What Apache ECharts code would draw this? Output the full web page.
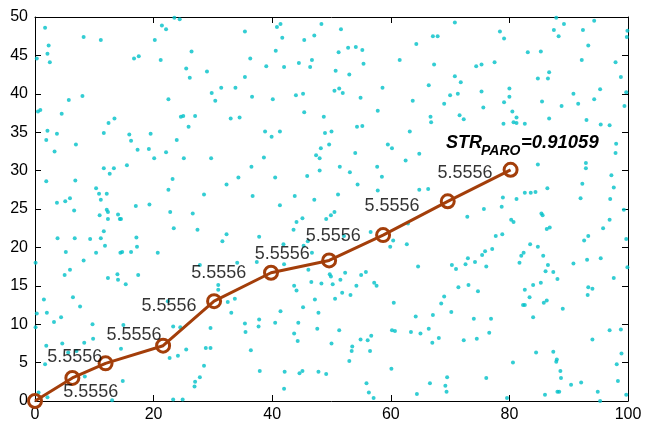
<!DOCTYPE html>
<html>
<head>
<meta charset="utf-8">
<script src="https://cdn.jsdelivr.net/npm/echarts@6/dist/echarts.min.js"></script>
<style>
html, body { margin: 0; padding: 0; background: #fff; }
#chart { width: 647px; height: 427px; }
</style>
</head>
<body>
<div id="chart"></div>
<script>
// background point cloud [x, y]
var cloud = [
  [1.7,48.6],[8.2,47.4],[11.1,47.0],[2.3,46.3],[2.1,45.2],[0.3,44.6],[2.5,44.1],[21.4,48.9],[22.1,48.4],[23.5,49.9],[24.4,49.7],[20.2,47.0],[16.7,44.6],[17.5,44.9],[21.2,44.4],[5.7,39.2],[8.0,39.7],[0.5,37.7],[0.9,37.9],[4.5,37.4],[22.5,39.3],[24.6,37.0],[25.0,37.1],[12.4,36.2],[13.4,36.8],[2.1,35.2],[3.7,34.8],[1.9,34.0],[11.6,34.9],[15.9,34.7],[19.5,34.8],[16.2,33.9],[6.9,33.4],[23.9,34.0],
  [41.4,49.1],[40.8,48.7],[48.3,49.1],[35.4,48.1],[41.7,47.3],[47.1,47.6],[45.4,47.0],[26.4,45.5],[40.6,45.6],[36.3,44.6],[25.5,43.3],[29.0,42.9],[26.1,42.1],[39.0,43.6],[42.0,43.5],[44.5,44.0],[46.7,44.4],[46.4,43.5],[35.4,42.2],[31.4,40.8],[33.8,40.8],[29.8,40.1],[30.4,39.1],[36.6,39.6],[40.1,39.3],[44.0,39.8],[45.2,40.0],[27.0,37.1],[33.0,36.8],[34.5,36.9],[45.4,37.6],[48.7,37.0],[25.9,35.7],[38.8,35.1],[41.3,35.1],[39.9,34.4],[48.9,34.9],[50.0,35.1],[49.6,33.4],
  [51.6,48.4],[70.8,49.3],[67.1,47.5],[67.9,47.5],[64.3,46.5],[52.8,46.0],[54.1,46.1],[55.2,45.7],[51.2,45.4],[55.4,43.9],[61.5,44.4],[67.3,43.8],[50.7,43.0],[53.0,42.5],[74.4,43.6],[70.8,42.3],[71.8,41.5],[66.4,41.1],[58.6,40.8],[51.3,40.7],[50.5,40.4],[51.9,40.1],[54.9,39.5],[71.3,40.0],[70.0,39.8],[63.7,39.1],[69.0,38.7],[57.8,37.8],[71.6,37.2],[72.3,36.7],[66.7,37.0],[66.8,36.3],[54.3,35.7],[55.2,35.8],[63.2,35.1],[59.5,33.4],
  [78.4,48.1],[79.1,47.2],[87.9,49.9],[89.2,49.1],[94.3,49.5],[87.5,48.3],[88.3,47.5],[92.4,48.3],[99.8,47.4],[99.9,48.2],[93.3,46.3],[83.1,45.4],[85.3,45.5],[75.3,43.8],[77.5,44.1],[92.2,44.4],[97.9,44.1],[86.7,42.8],[84.8,42.0],[86.5,42.0],[98.8,42.2],[75.3,40.3],[80.0,40.7],[80.0,39.6],[79.1,38.9],[85.5,39.0],[90.8,40.0],[95.3,40.6],[94.3,39.3],[91.6,38.7],[88.8,38.4],[99.7,40.2],[75.6,38.2],[99.4,38.4],[80.5,37.7],[81.2,36.9],[80.7,36.3],[81.2,36.2],[82.6,36.1],[79.0,36.1],[86.7,36.8],[93.0,36.6],[95.4,36.0],[96.9,35.9],[98.0,33.5],
  [3.3,32.5],[17.3,32.7],[19.2,32.8],[22.1,32.4],[20.1,31.6],[25.1,31.6],[11.6,30.3],[13.3,30.3],[15.5,30.7],[12.6,29.6],[1.9,28.6],[6.8,28.7],[23.2,28.9],[10.3,27.7],[22.5,27.5],[10.8,27.0],[12.1,27.0],[11.1,26.2],[5.9,26.4],[5.1,26.0],[3.7,25.8],[17.0,25.4],[19.3,25.6],[6.6,24.8],[12.1,24.9],[12.3,24.6],[10.9,24.2],[14.0,24.3],[14.3,23.7],[14.5,23.7],[12.3,23.7],[22.8,24.6],[23.4,22.5],[11.6,22.1],[3.8,21.2],[6.7,21.2],[9.3,21.1],[11.1,21.2],[17.1,21.3],[17.2,20.1],[11.8,20.2],[5.2,19.4],[10.3,19.3],[14.4,19.3],[14.7,19.4],[16.2,19.4],[20.7,19.3],[0.1,18.0],[8.2,18.3],[5.9,17.1],[5.0,16.4],[13.9,16.5],[17.4,16.4],
  [29.7,31.6],[38.6,31.7],[48.2,32.9],[47.4,32.0],[48.0,31.6],[48.0,30.0],[36.5,30.5],[34.3,29.1],[40.5,29.1],[45.9,29.3],[32.3,28.2],[28.5,26.9],[36.7,26.7],[43.8,26.7],[47.1,26.2],[41.3,25.5],[26.6,24.4],[45.1,23.8],[44.1,23.3],[49.1,23.7],[49.9,24.2],[27.4,22.3],[32.3,21.7],[31.6,20.8],[37.8,21.4],[43.6,22.3],[46.0,20.8],[45.3,20.2],[41.9,20.4],[46.7,19.3],[27.8,17.7],[34.1,18.0],[37.4,18.1],[42.0,17.8],[46.1,17.1],[49.7,16.5],
  [54.0,32.3],[60.2,32.9],[64.8,32.2],[62.5,31.3],[51.4,30.5],[53.1,29.8],[57.7,30.5],[58.5,29.2],[54.4,28.2],[57.8,27.4],[64.8,27.5],[66.3,27.6],[51.1,26.9],[50.5,24.6],[62.9,23.1],[72.9,24.0],[56.6,22.0],[52.1,21.5],[60.4,20.9],[62.7,20.4],[59.9,20.1],[73.0,18.6],[74.2,18.1],[72.6,17.8],[70.3,17.7],[71.0,17.2],[64.6,17.5],[52.3,16.7],[55.0,16.4],[55.8,16.8],
  [97.9,32.3],[84.8,30.8],[92.9,31.0],[92.9,30.3],[97.2,29.4],[92.3,28.3],[97.6,27.8],[86.4,27.7],[82.6,27.1],[83.6,27.1],[84.4,27.2],[78.9,26.5],[81.2,26.3],[92.0,26.4],[97.0,26.3],[75.7,25.0],[78.7,25.3],[85.4,24.4],[85.6,24.2],[80.3,23.6],[80.7,23.3],[99.3,24.9],[96.9,23.6],[86.3,22.4],[86.8,22.6],[95.8,22.5],[77.7,21.5],[78.8,21.7],[93.3,21.5],[92.6,20.9],[99.7,21.1],[83.5,20.4],[84.8,20.1],[77.1,19.8],[75.9,19.5],[75.4,19.0],[82.4,19.3],[82.0,18.9],[85.7,18.9],[95.4,18.6],[93.1,18.4],[76.1,17.5],[81.7,18.0],[86.5,17.7],[90.8,17.9],[86.1,16.9],[87.4,16.8],[99.9,17.4],
  [12.3,16.0],[14.0,15.8],[15.3,15.2],[1.5,13.2],[6.4,13.5],[7.6,12.3],[0.3,11.4],[2.0,11.5],[4.4,10.9],[3.2,10.3],[0.1,9.6],[9.7,10.0],[14.9,9.9],[9.8,8.1],[8.3,7.6],[4.6,7.5],[1.9,7.2],[5.6,6.3],[7.0,6.5],[14.5,6.8],[22.4,13.0],[23.3,9.7],[24.5,9.6],[24.1,5.9],[22.7,5.6],[1.7,4.8],[8.4,3.2],[14.8,2.6],[0.6,1.1],[2.1,0.5],[13.0,0.1],[23.3,0.2],[24.9,0.2],
  [30.9,15.1],[30.9,14.5],[32.5,12.9],[33.7,13.3],[33.1,11.5],[29.6,9.5],[25.5,6.7],[28.8,6.9],[29.6,6.9],[28.5,4.6],[27.8,3.1],[27.0,2.5],[26.9,1.9],[35.4,10.1],[35.5,9.0],[36.4,6.6],[37.7,9.7],[37.8,10.6],[37.9,3.9],[40.5,10.2],[41.4,11.7],[42.1,3.8],[42.0,1.6],[43.7,15.0],[44.1,14.4],[44.4,10.2],[44.3,7.8],[43.7,8.8],[44.6,3.6],[45.1,3.9],[45.2,12.2],[46.6,15.5],[47.2,13.2],[47.6,9.4],[47.8,11.5],[47.8,3.8],[48.3,15.3],[49.9,16.2],[50.2,15.2],[50.0,7.5],[49.1,3.5],
  [51.5,15.8],[50.6,13.3],[54.2,15.0],[57.2,15.4],[57.6,15.0],[51.8,14.1],[53.2,13.8],[60.5,12.8],[71.4,14.8],[73.1,15.1],[74.7,14.3],[69.0,13.6],[68.5,12.7],[70.2,11.6],[67.1,11.2],[64.2,11.0],[74.0,10.7],[51.3,9.2],[60.2,9.2],[60.7,9.1],[63.4,9.0],[65.0,8.8],[66.4,9.4],[68.1,8.2],[67.0,7.6],[54.9,8.0],[56.7,8.5],[56.1,7.9],[53.5,7.1],[53.4,6.5],[56.5,6.5],[53.0,5.2],[60.1,4.2],[72.3,7.9],[74.5,8.1],[55.9,2.3],[56.3,1.1],[57.1,0.4],[66.6,2.3],[69.2,2.0],[69.5,3.1],[69.4,1.2],[64.4,0.9],
  [82.6,14.5],[84.0,15.1],[85.3,15.4],[88.1,15.9],[97.6,16.0],[93.3,14.8],[94.0,14.6],[93.2,13.8],[83.4,13.5],[82.3,12.5],[82.6,12.5],[85.8,12.8],[86.3,13.1],[89.0,12.0],[76.9,10.7],[84.0,10.9],[76.6,8.9],[96.9,9.2],[98.8,9.3],[94.0,8.0],[84.5,6.3],[87.4,6.4],[88.0,5.4],[87.9,5.1],[98.9,6.2],[98.1,4.8],[80.6,5.0],[88.6,3.9],[88.7,3.0],[90.4,2.1],[92.1,2.4],[98.3,2.6],[76.1,3.0],[86.0,0.8],[88.1,1.2],[88.4,1.2],[94.9,1.2],[99.7,0.8],[79.6,0.4],[95.3,0.0]
];

// path through the cloud
var pathX = [0, 6.3, 11.9, 21.6, 30.2, 39.8, 49.6, 58.7, 69.6, 80.2];
var pathY = [0, 3.0, 4.9, 7.2, 13.0, 16.7, 18.3, 21.6, 26.0, 30.1];

// segment labels (anchor in data units) and their text
var labelX = [9.4, 6.7, 16.7, 22.6, 31.0, 41.7, 50.3, 60.2, 72.5];
var labelY = [1.2, 5.7, 8.6, 12.4, 16.7, 19.1, 21.5, 25.4, 29.7];
var labelText = ["5.5556", "5.5556", "5.5556", "5.5556", "5.5556", "5.5556", "5.5556", "5.5556", "5.5556"];

var xTicks = [0, 20, 40, 60, 80, 100];
var yTicks = [0, 5, 10, 15, 20, 25, 30, 35, 40, 45, 50];

var FONT = "Liberation Sans, Arial, Helvetica, sans-serif";

var chart = echarts.init(document.getElementById("chart"), null, { renderer: "canvas" });

var pathData = pathX.map(function (x, i) { return [x, pathY[i]]; });
var labelData = labelX.map(function (x, i) { return { value: [x, labelY[i]], name: labelText[i] }; });

function boxAxis(pos, min, max, step, showLabel) {
  return {
    type: "value",
    position: pos,
    min: min,
    max: max,
    interval: step,
    splitLine: { show: false },
    axisLine: { show: true, onZero: false, lineStyle: { color: "#000", width: 1 } },
    axisTick: { show: true, inside: true, length: 6, lineStyle: { color: "#000", width: 1 } },
    axisLabel: {
      show: showLabel,
      color: "#000",
      fontFamily: FONT,
      fontSize: 16,
      margin: pos === "left" ? 7 : 6
    }
  };
}

var option = {
  animation: false,
  backgroundColor: "#fff",
  grid: { left: 35, right: 19, top: 17, bottom: 26, containLabel: false },
  xAxis: [
    boxAxis("bottom", xTicks[0], xTicks[xTicks.length - 1], xTicks[1] - xTicks[0], true),
    boxAxis("top", xTicks[0], xTicks[xTicks.length - 1], xTicks[1] - xTicks[0], false)
  ],
  yAxis: [
    boxAxis("left", yTicks[0], yTicks[yTicks.length - 1], yTicks[1] - yTicks[0], true),
    boxAxis("right", yTicks[0], yTicks[yTicks.length - 1], yTicks[1] - yTicks[0], false)
  ],
  series: [
    {
      type: "scatter",
      data: cloud,
      symbol: "circle",
      symbolSize: 4,
      itemStyle: { color: "#00c0c8" },
      clip: false,
      silent: true,
      z: 2
    },
    {
      type: "line",
      data: pathData,
      symbol: "circle",
      symbolSize: 13,
      showSymbol: true,
      lineStyle: { color: "#a33e0a", width: 3 },
      itemStyle: { color: "rgba(0,0,0,0)", borderColor: "#a33e0a", borderWidth: 3 },
      clip: false,
      z: 3
    },
    {
      type: "scatter",
      data: labelData,
      symbolSize: 0,
      silent: true,
      label: {
        show: true,
        position: "inside",
        formatter: "{b}",
        color: "#000",
        fontFamily: FONT,
        fontSize: 18
      },
      z: 4
    }
  ],
  graphic: [
    {
      type: "text", x: 446, y: 143, z: 10,
      style: { text: "STR", font: "italic bold 18px " + FONT, fill: "#000", verticalAlign: "middle" }
    },
    {
      type: "text", x: 481, y: 151, z: 10,
      style: { text: "PARO", font: "italic bold 14px " + FONT, fill: "#000", verticalAlign: "middle" }
    },
    {
      type: "text", x: 521, y: 143, z: 10,
      style: { text: "=0.91059", font: "italic bold 18.5px " + FONT, fill: "#000", verticalAlign: "middle" }
    }
  ]
};

chart.setOption(option);
</script>
</body>
</html>
